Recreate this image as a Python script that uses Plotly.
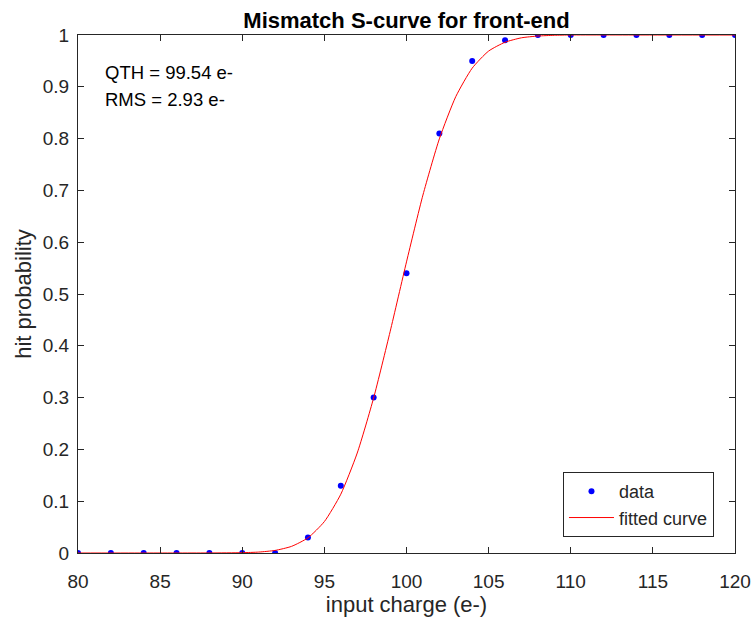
import plotly.graph_objects as go

# measured data
x_data = [80, 82, 84, 86, 88, 90, 92, 94, 96, 98, 100, 102, 104, 106, 108, 110, 112, 114, 116, 118, 120]
y_data = [0, 0, 0, 0, 0, 0, 0, 0.03, 0.13, 0.30, 0.54, 0.81, 0.95, 0.99, 1, 1, 1, 1, 1, 1, 1]

# fitted curve
x_fit = [80, 84, 88, 90, 91, 92, 93, 94, 95, 96, 97, 98, 99, 100, 101, 102, 103, 104, 105, 106, 107, 108, 109, 110, 115, 120]
y_fit = [0, 0, 0.0001, 0.0006, 0.0018, 0.005, 0.0128, 0.0293, 0.0607, 0.1135, 0.193, 0.2995, 0.427, 0.562, 0.691,
         0.7995, 0.881, 0.936, 0.969, 0.986, 0.9946, 0.998, 0.9994, 1, 1, 1]

title_text = "Mismatch S-curve for front-end"
x_label = "input charge (e-)"
y_label = "hit probability"
notes = ["QTH = 99.54 e-", "RMS = 2.93 e-"]

FONT = "Liberation Sans, Arial, sans-serif"
TXT = "#262626"

fig = go.Figure()
fig.add_trace(go.Scatter(x=x_data, y=y_data, mode="markers", name="data",
                         marker=dict(color="#0000ff", size=6)))
fig.add_trace(go.Scatter(x=x_fit, y=y_fit, mode="lines", name="fitted curve",
                         line=dict(color="#ff0000", width=1, shape="spline", smoothing=0.6)))

axis_common = dict(showline=True, mirror="ticks", linecolor="#262626", linewidth=1,
                   ticks="inside", ticklen=6, tickcolor="#262626", showgrid=False, zeroline=False,
                   automargin=False, ticklabeloverflow="allow",
                   tickfont=dict(family=FONT, size=19, color=TXT))

fig.update_xaxes(range=[80, 120], dtick=5, tick0=80, ticklabelstandoff=11,
                 title=dict(text=x_label, font=dict(family=FONT, size=22, color=TXT), standoff=5),
                 **axis_common)
fig.update_yaxes(range=[0, 1], dtick=0.1, tick0=0, ticklabelstandoff=4,
                 title=dict(text=y_label, font=dict(family=FONT, size=22, color=TXT), standoff=5),
                 **axis_common)

for i, t in enumerate(notes):
    fig.add_annotation(x=81.55, y=[0.927, 0.875][i], xref="x", yref="y", text=t, showarrow=False,
                       xanchor="left", yanchor="middle", font=dict(family=FONT, size=18.5, color="#000000"))

fig.update_layout(
    width=752, height=619,
    margin=dict(l=78, r=17, t=35, b=66),
    paper_bgcolor="white", plot_bgcolor="white",
    title=dict(text="<b>" + title_text + "</b>", x=0.5, xref="paper", yref="container",
               y=0.968, yanchor="middle",
               font=dict(family=FONT, size=22, color="#000000")),
    legend=dict(x=0.968, y=0.031, xanchor="right", yanchor="bottom", bgcolor="white",
                bordercolor="#262626", borderwidth=1, itemwidth=45,
                font=dict(family=FONT, size=18, color=TXT), tracegroupgap=0),
    showlegend=True,
)

fig.write_html(
    "out.html",
    config={"displayModeBar": False},
    post_script="document.body.style.margin='0';document.body.style.overflow='hidden';"
                "document.documentElement.style.overflow='hidden';",
)
